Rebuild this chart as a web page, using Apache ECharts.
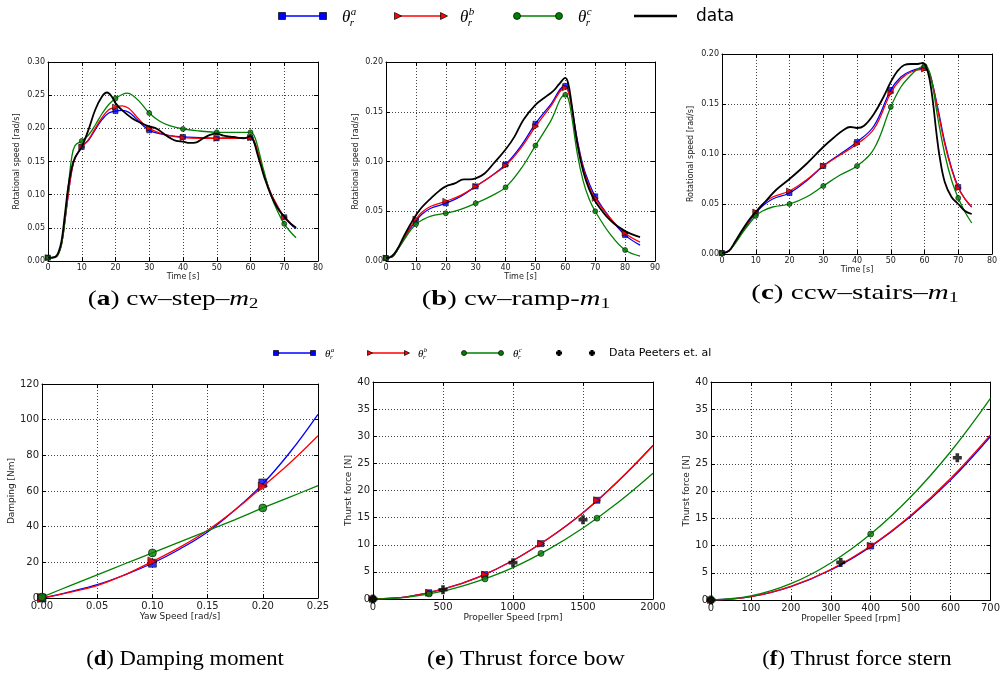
<!DOCTYPE html>
<html>
<head>
<meta charset="utf-8">
<script src="https://cdn.jsdelivr.net/npm/echarts@6/dist/echarts.min.js"></script>
<style>
html,body{margin:0;padding:0;background:#fff}
#chart{width:1003px;height:675px}
</style>
</head>
<body>
<div id="chart"></div>
<script>
// ---------- (a) cw-step-m2 : rotational speed vs time ----------
const aMarkT = [0, 10, 20, 30, 40, 50, 60, 70];
const aMarkBlue = [0.005, 0.172, 0.226, 0.197, 0.187, 0.185, 0.186, 0.066];
const aMarkRed = [0.005, 0.172, 0.232, 0.200, 0.186, 0.185, 0.186, 0.066];
const aMarkGreen = [0.005, 0.181, 0.245, 0.223, 0.199, 0.194, 0.194, 0.056];
const aBlue = [[0,0.005],[2,0.006],[3,0.01],[4,0.025],[5,0.06],[6,0.1],[7,0.135],[8,0.155],[10,0.172],[12,0.182],[14,0.198],[16,0.213],[18,0.223],[20,0.226],[22,0.227],[24,0.224],[26,0.215],[28,0.205],[30,0.197],[33,0.192],[36,0.189],[40,0.187],[45,0.186],[50,0.185],[55,0.186],[58,0.186],[60,0.186],[61,0.18],[62,0.165],[63,0.148],[64,0.13],[66,0.102],[68,0.082],[70,0.066],[72,0.055],[73.5,0.049]];
const aRed = [[0,0.005],[2,0.006],[3,0.01],[4,0.025],[5,0.06],[6,0.1],[7,0.135],[8,0.155],[10,0.172],[12,0.183],[14,0.2],[16,0.216],[18,0.228],[20,0.232],[22,0.234],[24,0.23],[26,0.219],[28,0.208],[30,0.2],[33,0.193],[36,0.189],[40,0.186],[45,0.185],[50,0.185],[55,0.185],[58,0.185],[60,0.186],[61,0.182],[62,0.168],[63,0.15],[64,0.132],[66,0.103],[68,0.083],[70,0.066],[72,0.056],[73.5,0.05]];
const aGreen = [[0,0.004],[2,0.005],[3,0.01],[4,0.025],[5,0.06],[6,0.11],[7,0.155],[8,0.174],[10,0.181],[12,0.19],[14,0.205],[16,0.222],[18,0.236],[20,0.245],[22,0.251],[23.5,0.253],[25,0.25],[27,0.241],[30,0.223],[33,0.211],[36,0.204],[40,0.199],[45,0.196],[50,0.194],[55,0.194],[60,0.194],[61,0.19],[62,0.175],[63,0.155],[64,0.135],[66,0.1],[68,0.075],[70,0.056],[72,0.043],[73.5,0.035]];
const aData = [[0,0.005],[2,0.006],[3,0.012],[4,0.03],[5,0.07],[6,0.112],[7,0.14],[8,0.156],[10,0.172],[12,0.198],[14,0.228],[16,0.248],[17.5,0.254],[19,0.247],[20,0.238],[22,0.227],[25,0.215],[28,0.207],[30,0.203],[32,0.2],[34,0.193],[36,0.186],[38,0.181],[40,0.18],[42,0.178],[44,0.179],[46,0.185],[48,0.19],[50,0.192],[52,0.189],[55,0.187],[58,0.185],[60,0.188],[61,0.18],[62,0.162],[63,0.145],[64,0.128],[66,0.1],[68,0.08],[70,0.067],[72,0.056],[73.5,0.05]];

// ---------- (b) cw-ramp-m1 ----------
const bMarkT = [0, 10, 20, 30, 40, 50, 60, 70, 80];
const bMarkBlue = [0.003, 0.040, 0.058, 0.075, 0.097, 0.138, 0.176, 0.065, 0.026];
const bMarkRed = [0.003, 0.042, 0.060, 0.075, 0.096, 0.135, 0.174, 0.063, 0.028];
const bMarkGreen = [0.003, 0.037, 0.048, 0.058, 0.074, 0.116, 0.167, 0.050, 0.011];
const bBlue = [[0,0.003],[2,0.004],[4,0.012],[6,0.022],[8,0.032],[10,0.04],[12,0.047],[15,0.053],[20,0.058],[25,0.065],[30,0.075],[35,0.085],[40,0.097],[45,0.115],[50,0.138],[55,0.157],[60,0.176],[61,0.172],[62,0.158],[64,0.122],[66,0.095],[68,0.078],[70,0.065],[75,0.043],[80,0.026],[85,0.016]];
const bRed = [[0,0.003],[2,0.004],[4,0.012],[6,0.023],[8,0.033],[10,0.042],[12,0.049],[15,0.055],[20,0.06],[25,0.066],[30,0.075],[35,0.085],[40,0.096],[45,0.113],[50,0.135],[55,0.155],[60,0.174],[61,0.17],[62,0.156],[64,0.12],[66,0.093],[68,0.075],[70,0.063],[75,0.043],[80,0.028],[85,0.019]];
const bGreen = [[0,0.003],[2,0.004],[4,0.012],[6,0.021],[8,0.03],[10,0.037],[12,0.041],[15,0.045],[20,0.048],[25,0.052],[30,0.058],[35,0.065],[40,0.074],[45,0.092],[50,0.116],[55,0.14],[60,0.167],[61,0.163],[62,0.148],[64,0.108],[66,0.08],[68,0.062],[70,0.05],[75,0.027],[80,0.011],[85,0.005]];
const bData = [[0,0.003],[2,0.005],[4,0.013],[6,0.025],[8,0.036],[10,0.046],[12,0.054],[15,0.063],[18,0.071],[20,0.075],[23,0.078],[26,0.082],[28,0.082],[30,0.083],[33,0.088],[36,0.098],[40,0.112],[43,0.125],[46,0.142],[50,0.157],[53,0.164],[56,0.171],[58,0.178],[60,0.184],[61,0.178],[62,0.16],[64,0.118],[66,0.09],[68,0.072],[70,0.06],[75,0.041],[80,0.03],[85,0.024]];

// ---------- (c) ccw-stairs-m1 ----------
const cMarkT = [0, 10, 20, 30, 40, 50, 60, 70];
const cMarkBlue = [0.001, 0.041, 0.061, 0.088, 0.112, 0.164, 0.186, 0.067];
const cMarkRed = [0.001, 0.042, 0.063, 0.088, 0.110, 0.161, 0.185, 0.066];
const cMarkGreen = [0.001, 0.038, 0.050, 0.068, 0.088, 0.147, 0.188, 0.056];
const cBlue = [[0,0.001],[2,0.003],[4,0.012],[6,0.022],[8,0.032],[10,0.041],[12,0.048],[15,0.055],[20,0.061],[25,0.073],[30,0.088],[35,0.1],[40,0.112],[45,0.128],[50,0.164],[53,0.177],[56,0.183],[60,0.186],[61,0.183],[62,0.175],[64,0.145],[66,0.112],[68,0.086],[70,0.067],[72,0.055],[74,0.047]];
const cRed = [[0,0.001],[2,0.003],[4,0.012],[6,0.023],[8,0.033],[10,0.042],[12,0.05],[15,0.057],[20,0.063],[25,0.074],[30,0.088],[35,0.099],[40,0.11],[45,0.125],[50,0.161],[53,0.175],[56,0.182],[60,0.185],[61,0.183],[62,0.175],[64,0.143],[66,0.11],[68,0.085],[70,0.066],[72,0.055],[74,0.047]];
const cGreen = [[0,0.001],[2,0.003],[4,0.011],[6,0.021],[8,0.03],[10,0.038],[12,0.043],[15,0.047],[20,0.05],[25,0.057],[30,0.068],[35,0.079],[40,0.088],[45,0.105],[50,0.147],[53,0.167],[56,0.179],[58,0.185],[60,0.188],[61,0.186],[62,0.176],[64,0.135],[66,0.1],[68,0.074],[70,0.056],[72,0.042],[74,0.031]];
const cData = [[0,0.001],[2,0.003],[4,0.013],[6,0.024],[8,0.034],[10,0.042],[13,0.053],[16,0.064],[20,0.075],[25,0.09],[30,0.107],[33,0.116],[36,0.124],[38,0.127],[40,0.126],[42,0.128],[45,0.14],[48,0.158],[50,0.172],[52,0.183],[54,0.189],[56,0.19],[58,0.19],[59.5,0.191],[60.5,0.187],[61.5,0.175],[62.5,0.152],[63.5,0.122],[64.5,0.097],[66,0.072],[68,0.057],[70,0.05],[72,0.043],[74,0.04]];

// ---------- (d) damping moment vs yaw speed ----------
const dX = [0, 0.025, 0.05, 0.075, 0.1, 0.125, 0.15, 0.175, 0.2, 0.225, 0.25];
const dBlue = [0, 3.5, 7.5, 13, 19.5, 27.5, 37, 49.5, 64, 82, 103];
const dRed = [0, 3.2, 7, 13, 20.5, 28.5, 38, 49.5, 62.5, 76, 91];
const dGreen = [0.5, 6.8, 13, 19.2, 25.3, 31.5, 37.7, 44, 50.5, 56.7, 63];
const dMarkX = [0, 0.1, 0.2];
const dMarkBlue = [0, 19.5, 64.5];
const dMarkRed = [0, 20.5, 62.5];
const dMarkGreen = [0.5, 25.3, 50.5];

// ---------- (e) thrust force bow ----------
const eX = [0, 250, 500, 750, 1000, 1250, 1500, 1750, 2000];
const eBlue = [0, 0.45, 1.8, 4.0, 7.1, 11.1, 15.9, 21.7, 28.3];
const eRed = [0, 0.45, 1.8, 4.0, 7.1, 11.1, 15.9, 21.7, 28.3];
const eGreen = [0, 0.36, 1.45, 3.3, 5.8, 9.1, 13.1, 17.8, 23.2];
const eMarkX = [0, 400, 800, 1200, 1600];
const eMarkBlue = [0, 1.15, 4.5, 10.2, 18.2];
const eMarkRed = [0, 1.15, 4.5, 10.2, 18.2];
const eMarkGreen = [0, 0.93, 3.7, 8.4, 14.9];
const ePeetersX = [0, 500, 1000, 1500];
const ePeeters = [0, 1.7, 6.7, 14.6];

// ---------- (f) thrust force stern ----------
const fX = [0, 100, 200, 300, 400, 500, 600, 700];
const fBlue = [0, 0.6, 2.45, 5.5, 9.8, 15.3, 22.0, 30.0];
const fRed = [0, 0.62, 2.5, 5.6, 9.9, 15.5, 22.3, 30.3];
const fGreen = [0, 0.75, 3.0, 6.8, 12.1, 18.9, 27.2, 37.0];
const fMarkX = [0, 400];
const fMarkBlue = [0, 9.9];
const fMarkRed = [0, 9.95];
const fMarkGreen = [0, 12.1];
const fPeetersX = [0, 325, 617];
const fPeeters = [0, 6.9, 26.1];

// ---------- captions ----------
const captionLetters = ['a', 'b', 'c', 'd', 'e', 'f'];
const captionTexts = ['cw–step–', 'cw–ramp-', 'ccw–stairs–', 'Damping moment', 'Thrust force bow', 'Thrust force stern'];
const captionSubs = ['2', '1', '1', '', '', ''];

const zip = (xs, ys) => xs.map((x, i) => [x, ys[i]]);

const BLUE = '#0000ff', RED = '#ff0000', GREEN = '#008000', BLACK = '#000000';
const TRI = 'path://M0,0L10,5L0,10Z';
const PLUS = 'path://M3,0H7V3H10V7H7V10H3V7H0V3H3Z';
const SANS = '"DejaVu Sans", sans-serif';
const SERIF = '"Liberation Serif", serif';

const panels = [
  { grid: {left: 48, top: 62, width: 270, height: 199}, x: [0, 80, 10], y: [0, 0.30, 0.05],
    xf: v => String(v), yf: v => v.toFixed(2), xName: 'Time [s]', yName: 'Rotational speed [rad/s]',
    tick: 8, nameSize: 8, xGap: 12, yGap: 27, ms: 5,
    lines: [aBlue, aRed, aGreen, aData], mx: aMarkT, marks: [aMarkBlue, aMarkRed, aMarkGreen] },
  { grid: {left: 386, top: 62, width: 269, height: 199}, x: [0, 90, 10], y: [0, 0.20, 0.05],
    xf: v => String(v), yf: v => v.toFixed(2), xName: 'Time [s]', yName: 'Rotational speed [rad/s]',
    tick: 8, nameSize: 8, xGap: 12, yGap: 26, ms: 5,
    lines: [bBlue, bRed, bGreen, bData], mx: bMarkT, marks: [bMarkBlue, bMarkRed, bMarkGreen] },
  { grid: {left: 722, top: 54, width: 270, height: 200}, x: [0, 80, 10], y: [0, 0.20, 0.05],
    xf: v => String(v), yf: v => v.toFixed(2), xName: 'Time [s]', yName: 'Rotational speed [rad/s]',
    tick: 8, nameSize: 8, xGap: 12, yGap: 27, ms: 5,
    lines: [cBlue, cRed, cGreen, cData], mx: cMarkT, marks: [cMarkBlue, cMarkRed, cMarkGreen] },
  { grid: {left: 42, top: 384, width: 276, height: 214}, x: [0, 0.25, 0.05], y: [0, 120, 20],
    xf: v => v.toFixed(2), yf: v => String(v), xName: 'Yaw Speed [rad/s]', yName: 'Damping [Nm]',
    tick: 10, nameSize: 9, xGap: 13, yGap: 24, ms: 8,
    lines: [zip(dX, dBlue), zip(dX, dRed), zip(dX, dGreen)], mx: dMarkX, marks: [dMarkBlue, dMarkRed, dMarkGreen] },
  { grid: {left: 373, top: 382, width: 280, height: 217}, x: [0, 2000, 500], y: [0, 40, 5],
    xf: v => String(v), yf: v => String(v), xName: 'Propeller Speed [rpm]', yName: 'Thurst force [N]',
    tick: 10, nameSize: 9, xGap: 13, yGap: 19, ms: 6,
    lines: [zip(eX, eBlue), zip(eX, eRed), zip(eX, eGreen)], mx: eMarkX, marks: [eMarkBlue, eMarkRed, eMarkGreen],
    peeters: zip(ePeetersX, ePeeters) },
  { grid: {left: 711, top: 382, width: 282, height: 218}, x: [0, 700, 100], y: [0, 40, 5],
    xf: v => String(v), yf: v => String(v), xName: 'Propeller Speed [rpm]', yName: 'Thurst force [N]',
    tick: 10, nameSize: 9, xGap: 13, yGap: 20, ms: 6,
    lines: [zip(fX, fBlue), zip(fX, fRed), zip(fX, fGreen)], mx: fMarkX, marks: [fMarkBlue, fMarkRed, fMarkGreen],
    peeters: zip(fPeetersX, fPeeters) }
];

const grids = [], xAxes = [], yAxes = [], series = [];
const lineColors = [BLUE, RED, GREEN, BLACK];
const lineWidths = [1.3, 1.3, 1.3, 1.8];
const markSymbols = ['rect', TRI, 'circle'];

panels.forEach((p, i) => {
  grids.push(Object.assign({ show: false, containLabel: false }, p.grid));
  const frame = { show: true, onZero: false, lineStyle: { color: '#000', width: 1 } };
  const tick = { show: true, inside: true, length: 4, lineStyle: { color: '#000', width: 1 } };
  const split = { show: true, lineStyle: { color: '#444', width: 1, type: [1, 2] } };
  xAxes.push({
    gridIndex: i, type: 'value', position: 'bottom', min: p.x[0], max: p.x[1], interval: p.x[2],
    axisLine: frame, axisTick: tick, splitLine: split,
    axisLabel: { fontSize: p.tick, color: '#222', margin: 3, fontFamily: SANS, formatter: p.xf, showMinLabel: true, showMaxLabel: true },
    name: p.xName, nameLocation: 'middle', nameGap: p.xGap,
    nameTextStyle: { fontSize: p.nameSize, color: '#222', fontFamily: SANS }
  });
  xAxes.push({
    gridIndex: i, type: 'value', position: 'top', min: p.x[0], max: p.x[1], interval: p.x[2],
    axisLine: frame, axisTick: tick, splitLine: { show: false }, axisLabel: { show: false }
  });
  yAxes.push({
    gridIndex: i, type: 'value', position: 'left', min: p.y[0], max: p.y[1], interval: p.y[2],
    axisLine: frame, axisTick: tick, splitLine: split,
    axisLabel: { fontSize: p.tick, color: '#222', margin: 3, fontFamily: SANS, formatter: p.yf, showMinLabel: true, showMaxLabel: true },
    name: p.yName, nameLocation: 'middle', nameGap: p.yGap, nameRotate: 90,
    nameTextStyle: { fontSize: p.nameSize, color: '#222', fontFamily: SANS }
  });
  yAxes.push({
    gridIndex: i, type: 'value', position: 'right', min: p.y[0], max: p.y[1], interval: p.y[2],
    axisLine: frame, axisTick: tick, splitLine: { show: false }, axisLabel: { show: false }
  });
  const xi = 2 * i, yi = 2 * i;
  p.lines.forEach((d, k) => {
    series.push({
      type: 'line', xAxisIndex: xi, yAxisIndex: yi, data: d, smooth: 0.4,
      symbol: 'none', showSymbol: false, silent: true, z: 3 + k,
      lineStyle: { color: lineColors[k], width: lineWidths[k] }
    });
    if (k < 3) {
      series.push({
        type: 'scatter', xAxisIndex: xi, yAxisIndex: yi, data: zip(p.mx, p.marks[k]),
        symbol: markSymbols[k], symbolSize: k === 1 ? p.ms + 1 : p.ms, silent: true, z: 3 + k,
        itemStyle: { color: lineColors[k], borderColor: '#000', borderWidth: 0.7 }
      });
    }
  });
  if (p.peeters) {
    series.push({
      type: 'scatter', xAxisIndex: xi, yAxisIndex: yi, data: p.peeters,
      symbol: PLUS, symbolSize: 9, silent: true, z: 8,
      itemStyle: { color: '#000' }
    });
  }
});

// ---------- legends and captions (graphic elements) ----------
const graphic = [];
function legendRow(y, spec) {
  const [bx1, bx2, rx1, rx2, gx1, gx2] = spec.lines;
  graphic.push({ type: 'line', shape: { x1: bx1, y1: y, x2: bx2, y2: y }, style: { stroke: BLUE, lineWidth: 1.5 } });
  [bx1, bx2].forEach(x => graphic.push({ type: 'rect', shape: { x: x - spec.s / 2, y: y - spec.s / 2, width: spec.s, height: spec.s }, style: { fill: BLUE, stroke: '#000', lineWidth: 0.7 } }));
  graphic.push({ type: 'line', shape: { x1: rx1, y1: y, x2: rx2, y2: y }, style: { stroke: RED, lineWidth: 1.5 } });
  [rx1, rx2].forEach(x => graphic.push({ type: 'polygon', shape: { points: [[x - spec.s / 2, y - spec.s / 2], [x + spec.s / 2, y], [x - spec.s / 2, y + spec.s / 2]] }, style: { fill: RED, stroke: '#000', lineWidth: 0.7 } }));
  graphic.push({ type: 'line', shape: { x1: gx1, y1: y, x2: gx2, y2: y }, style: { stroke: GREEN, lineWidth: 1.5 } });
  [gx1, gx2].forEach(x => graphic.push({ type: 'circle', shape: { cx: x, cy: y, r: spec.s / 2 }, style: { fill: GREEN, stroke: '#000', lineWidth: 0.7 } }));
  ['a', 'b', 'c'].forEach((sup, k) => {
    const tx = spec.theta[k];
    graphic.push({ type: 'text', x: tx, y: y + spec.dy, style: { text: 'θ', fontSize: spec.tf, fontStyle: 'italic', fontFamily: SERIF, fill: '#000', verticalAlign: 'middle' } });
    graphic.push({ type: 'text', x: tx + spec.tf * 0.52, y: y + spec.dy - spec.tf * 0.32, style: { text: sup, fontSize: spec.sf, fontStyle: 'italic', fontFamily: SERIF, fill: '#000', verticalAlign: 'middle' } });
    graphic.push({ type: 'text', x: tx + spec.tf * 0.45, y: y + spec.dy + spec.tf * 0.3, style: { text: 'r', fontSize: spec.sf, fontStyle: 'italic', fontFamily: SERIF, fill: '#000', verticalAlign: 'middle' } });
  });
}
legendRow(16, { lines: [282, 323, 398, 444, 517, 559], s: 7, theta: [342, 460, 578], tf: 17, sf: 11, dy: 2 });
graphic.push({ type: 'line', shape: { x1: 634, y1: 16, x2: 677, y2: 16 }, style: { stroke: '#000', lineWidth: 2.5 } });
graphic.push({ type: 'text', x: 696, y: 17, style: { text: 'data', fontSize: 17, fontFamily: SANS, fill: '#000', verticalAlign: 'middle' } });

legendRow(353, { lines: [276, 313, 370, 407, 464, 501], s: 5, theta: [325, 418, 513], tf: 11, sf: 7, dy: 1 });
[559, 592].forEach(x => graphic.push({ type: 'polygon', shape: { points: [[x - 1.5, 350], [x + 1.5, 350], [x + 1.5, 351.5], [x + 3, 351.5], [x + 3, 354.5], [x + 1.5, 354.5], [x + 1.5, 356], [x - 1.5, 356], [x - 1.5, 354.5], [x - 3, 354.5], [x - 3, 351.5], [x - 1.5, 351.5]] }, style: { fill: '#000' } }));
graphic.push({ type: 'text', x: 609, y: 353, style: { text: 'Data Peeters et. al', fontSize: 11, fontFamily: SANS, fill: '#000', verticalAlign: 'middle' } });

// caption centre, vertical position and horizontal stretch
const captionPos = [[173, 300, 1.24], [516, 300, 1.3], [855, 294, 1.32], [185, 660, 1.03], [526, 660, 1.09], [857, 660, 1.03]];
captionLetters.forEach((L, k) => {
  let txt = '{p|(}{b|' + L + '}{p|) ' + captionTexts[k] + '}';
  if (captionSubs[k]) txt += '{i|m}{s|' + captionSubs[k] + '}';
  const base = { fontSize: 22, fontFamily: SERIF, fill: '#000', lineHeight: 24, verticalAlign: 'top' };
  graphic.push({
    type: 'text', x: captionPos[k][0], y: captionPos[k][1], scaleX: captionPos[k][2],
    style: {
      text: txt, align: 'center', verticalAlign: 'middle', fontSize: 22, fontFamily: SERIF, fill: '#000',
      rich: {
        p: base,
        b: Object.assign({}, base, { fontWeight: 'bold' }),
        i: Object.assign({}, base, { fontStyle: 'italic' }),
        s: { fontSize: 15, fontFamily: SERIF, fill: '#000', lineHeight: 20, verticalAlign: 'bottom' }
      }
    }
  });
});

const chart = echarts.init(document.getElementById('chart'), null, { renderer: 'canvas' });
chart.setOption({
  animation: false,
  backgroundColor: '#fff',
  grid: grids,
  xAxis: xAxes,
  yAxis: yAxes,
  series: series,
  graphic: graphic
});
</script>
</body>
</html>
